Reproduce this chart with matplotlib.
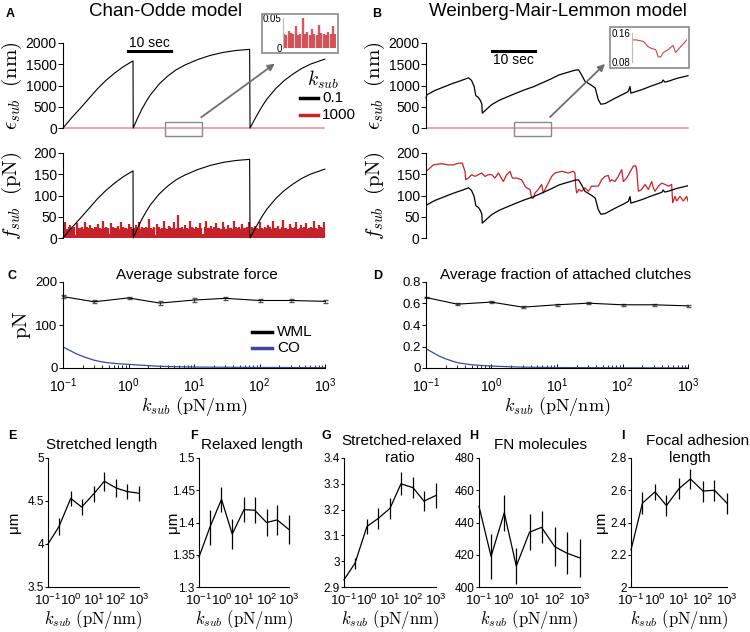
import numpy as np
import matplotlib

matplotlib.use("Agg")
import matplotlib.pyplot as plt
from matplotlib.patches import Rectangle, FancyArrowPatch
from matplotlib.lines import Line2D
from matplotlib.ticker import LogLocator, NullFormatter, FormatStrFormatter

plt.rcParams.update({
    "font.family": ["Liberation Sans", "DejaVu Sans"],
    "mathtext.fontset": "custom",
    "mathtext.rm": "Liberation Sans",
    "mathtext.it": "Liberation Sans:italic",
    "mathtext.bf": "Liberation Sans:bold",
    "axes.linewidth": 0.8,
    "xtick.major.width": 0.7,
    "ytick.major.width": 0.7,
})

RED = "#c62229"
BLUE = "#3c46a8"
GREY = "#8a8a8a"
W, H = 750, 632

# ---------------------------------------------------------------------------
# data
# ---------------------------------------------------------------------------
T_END = 61.0
K_SOFT = 0.1      # pN/nm
K_STIFF = 1000.0  # pN/nm

# Chan-Odde, k_sub = 0.1: substrate strain (nm)
CO_T = [0, 2, 4, 6, 8, 10, 12, 14, 16.3,
        16.35, 17.35, 18.35, 19.35, 20.35, 22.35, 24.35, 26.35, 28.35, 31.35,
        34.35, 37.35, 40.35, 43.45,
        43.55, 44.55, 45.55, 46.55, 47.55, 49.55, 51.55, 53.55, 55.55, 57.55, 60.95]
CO_EPS = [0, 240, 460, 690, 920, 1120, 1290, 1440, 1580,
          0, 230, 440, 620, 780, 1030, 1220, 1370, 1480, 1610,
          1710, 1780, 1825, 1850,
          0, 190, 370, 540, 690, 930, 1120, 1270, 1400, 1500, 1620]

# Chan-Odde, k_sub = 1000: substrate force (pN), sampled evenly over the trace
CO_F_STIFF = [
    24, 38, 22, 25, 31, 23, 26, 8, 35, 24, 23, 27, 22, 38, 25, 24, 30, 23, 22, 26,
    25, 33, 23, 22, 40, 24, 27, 23, 9, 36, 25, 24, 23, 29, 22, 38, 26, 23, 24, 22,
    34, 25, 22, 24, 30, 23, 38, 22, 25, 24, 27, 23, 45, 24, 22, 26, 8, 33, 25, 22,
    24, 40, 23, 22, 28, 25, 23, 37, 22, 24, 55, 23, 26, 22, 31, 24, 22, 39, 25, 23,
    22, 27, 24, 36, 23, 10, 25, 40, 24, 23, 29, 22, 26, 35, 23, 24, 22, 38, 25, 22,
    30, 23, 24, 22, 41, 25, 23, 27, 22, 34, 24, 23, 26, 38, 9, 25, 24, 29, 23, 22,
    37, 24, 22, 26, 23, 31, 25, 22, 39, 24, 23, 28, 22, 25, 42, 23, 24, 22, 33, 25,
    23, 26, 38, 22, 24, 30, 23, 25, 36, 22, 24, 27, 23, 40, 24, 22, 31, 25, 23, 38,
]
CO_ZOOM_T = (23.7, 32.3)

# Weinberg-Mair-Lemmon, k_sub = 0.1: substrate strain (nm)
WML_T = [0, 0.2, 2, 4, 6, 8, 9.9, 10.6, 11.2, 11.6, 12.2, 12.7, 13.0, 13.1,
         15.3, 17, 19.2, 21, 23, 25, 27, 29, 31, 33, 34.7, 35.5, 36.2, 37.0,
         38.6, 39.4, 40.1, 40.7, 41.7, 44.0, 46, 47.1, 47.5, 47.7, 50.2, 52.5,
         54.9, 55.2, 55.6, 56.4, 58.5, 61]
WML_EPS = [706, 780, 880, 960, 1040, 1110, 1180, 1120, 980, 760, 720, 640, 560, 350,
           550, 650, 745, 820, 900, 970, 1060, 1150, 1250, 1310, 1360, 1370, 1255, 1100,
           1000, 940, 670, 560, 575, 700, 800, 860, 975, 820, 900, 990,
           1075, 1130, 1080, 1100, 1170, 1230]

# Weinberg-Mair-Lemmon, k_sub = 1000: substrate force (pN)
WML_T_STIFF = [0, 0.54, 1.71, 3.65, 5.2, 6.36, 7.53, 8.46, 8.93, 9.08, 9.24, 9.86, 10.63,
               11.41, 12.18, 12.96, 13.74, 14.51, 15.29, 16.07, 16.84, 18.01, 18.78, 19.56,
               20.1, 21.11, 22.27, 23.05, 23.44, 24.21, 24.6, 24.99, 25.38, 26.15, 26.93,
               27.32, 28.09, 28.48, 29.26, 30.03, 31.59, 33.14, 34.3, 34.69, 34.85, 35.08,
               35.62, 36.24, 37.02, 37.8, 38.57, 39.35, 40.12, 40.9, 41.68, 42.45, 42.84,
               43.23, 44.0, 44.78, 45.56, 45.94, 46.72, 48.27, 48.82, 49.05, 49.44, 50.21,
               50.99, 51.77, 52.54, 52.93, 53.32, 54.09, 54.87, 55.65, 56.42, 57.2, 57.43,
               57.98, 58.36, 59.14, 59.92, 60.69, 61.0]
WML_F_STIFF = [157, 161, 172, 175, 172, 172, 176, 176, 161, 157, 137, 141, 149,
               145, 149, 153, 145, 149, 149, 141, 153, 133, 149, 157,
               141, 141, 137, 122, 118, 114, 94, 94, 106, 114, 126,
               106, 122, 129, 145, 153, 157, 153, 157, 153, 122, 106,
               114, 110, 118, 110, 122, 122, 122, 137, 145, 147, 133,
               137, 133, 145, 161, 133, 141, 169, 170, 161, 110, 114,
               126, 114, 133, 118, 110, 122, 129, 126, 122, 126, 83,
               98, 87, 98, 87, 98, 87]
WML_ZOOM_T = (20.5, 29.1)

# C / D: averages vs substrate stiffness
K_GRID = [0.1, 0.3, 1, 3, 10, 30, 100, 300, 1000]
WML_FORCE = [166, 154, 163, 151, 158, 162, 157, 157, 155]
WML_FORCE_ERR = [4, 4, 3, 4, 4, 3, 4, 4, 3]
WML_FRAC = [0.656, 0.594, 0.613, 0.566, 0.588, 0.603, 0.588, 0.588, 0.578]
WML_FRAC_ERR = [0.008, 0.012, 0.008, 0.01, 0.01, 0.01, 0.01, 0.01, 0.008]

K_CO = [0.1, 0.13, 0.16, 0.2, 0.25, 0.3, 0.4, 0.5, 0.7, 1, 2, 3, 5, 10, 100, 1000]
CO_FORCE = [49, 40, 33, 27, 22, 18, 14, 12, 10, 8.5, 5.5, 4, 3, 2.2, 1.2, 1]
CO_FRAC = [0.18, 0.14, 0.11, 0.085, 0.065, 0.05, 0.038, 0.03, 0.024, 0.018,
           0.011, 0.008, 0.006, 0.004, 0.002, 0.001]

# E-I: model outputs vs substrate stiffness
E_STRETCH = [4.0, 4.2, 4.53, 4.43, 4.58, 4.73, 4.65, 4.61, 4.59]
E_STRETCH_ERR = [0.0, 0.10, 0.09, 0.09, 0.09, 0.11, 0.10, 0.09, 0.09]
F_RELAX = [1.3465, 1.392, 1.436, 1.382, 1.42, 1.419, 1.40, 1.404, 1.389]
F_RELAX_ERR = [0.0, 0.027, 0.019, 0.023, 0.019, 0.02, 0.021, 0.023, 0.022]
G_RATIO = [2.928, 2.992, 3.135, 3.165, 3.205, 3.30, 3.285, 3.233, 3.255]
G_RATIO_ERR = [0.0, 0.022, 0.03, 0.04, 0.04, 0.045, 0.04, 0.04, 0.047]
H_FN = [450, 419, 446, 413, 434, 437, 425, 421, 418]
H_FN_ERR = [0, 14, 11, 11, 11, 10, 12, 13, 12]
I_FA = [2.23, 2.52, 2.59, 2.505, 2.61, 2.67, 2.595, 2.60, 2.52]
I_FA_ERR = [0.0, 0.07, 0.05, 0.065, 0.065, 0.06, 0.065, 0.065, 0.065]


# ---------------------------------------------------------------------------
# helpers (pixel positions -> figure fractions)
# ---------------------------------------------------------------------------
def fx(px):
    return px / W


def fy(py):
    return 1 - py / H


def add_ax(fig, l, t, r, b):
    return fig.add_axes([fx(l), fy(b), (r - l) / W, (b - t) / H])


def ftext(fig, x, y, s, **kw):
    kw.setdefault("ha", "center")
    kw.setdefault("va", "center")
    return fig.text(fx(x), fy(y), s, **kw)


def letter(fig, x, y, s):
    ftext(fig, x, y, s, fontsize=9, fontweight="bold", ha="left")


def only_left(ax):
    for s in ("top", "right", "bottom"):
        ax.spines[s].set_visible(False)
    ax.tick_params(axis="x", bottom=False, labelbottom=False)
    ax.tick_params(axis="y", length=3.5, labelsize=10, pad=1)


def ksub_axis(ax, xsize=10, ysize=9.5, xpad=5):
    ax.set_xscale("log")
    ax.set_xlim(0.1, 1000)
    ax.xaxis.set_major_locator(LogLocator(base=10, numticks=10))
    ax.xaxis.set_minor_locator(LogLocator(base=10, subs=np.arange(2, 10), numticks=20))
    ax.xaxis.set_minor_formatter(NullFormatter())
    for s in ("top", "right"):
        ax.spines[s].set_visible(False)
    ax.tick_params(axis="x", which="both", direction="in", labelsize=xsize, pad=xpad)
    ax.tick_params(axis="x", which="major", length=3)
    ax.tick_params(axis="x", which="minor", length=2)
    ax.tick_params(axis="y", length=3, labelsize=ysize, pad=1)


KLABEL = r"$k_{sub}\ (\mathrm{pN/nm})$"
EPS_LABEL = r"$\epsilon_{sub}\ \ (\mathrm{nm})$"
F_LABEL = r"$f_{sub}\ \ (\mathrm{pN})$"

# ---------------------------------------------------------------------------
# figure
# ---------------------------------------------------------------------------
fig = plt.figure(figsize=(W / 100, H / 100), dpi=100)

t_stiff = np.linspace(0.2, 60.8, len(CO_F_STIFF))
co_f_stiff = np.array(CO_F_STIFF, dtype=float)
co_eps_stiff = co_f_stiff / K_STIFF
co_f_soft = np.array(CO_EPS) * K_SOFT
wml_f_soft = np.array(WML_EPS) * K_SOFT
wml_eps_stiff = np.array(WML_F_STIFF) / K_STIFF

# ---- panel A ----
letter(fig, 6, 14, "A")
ftext(fig, 166, 12, "Chan-Odde model", fontsize=13.5)

axA1 = add_ax(fig, 63, 43, 325, 128)
axA1.plot(CO_T, CO_EPS, color="k", lw=0.8, clip_on=False, zorder=3)
axA1.plot(t_stiff, co_eps_stiff, color=RED, lw=0.8, alpha=0.7, clip_on=False)
axA1.set_xlim(0, T_END)
axA1.set_ylim(0, 2000)
axA1.set_yticks([0, 500, 1000, 1500, 2000])
only_left(axA1)
axA1.set_ylabel(EPS_LABEL, fontsize=15, math_fontfamily="cm")
axA1.yaxis.set_label_coords(-0.15, 0.5)
# scale bar
axA1.plot([15.1, 25.1], [1815, 1815], color="k", lw=2.2, clip_on=False)
axA1.text(20.1, 1990, "10 sec", ha="center", va="center", fontsize=10)
axA1.add_patch(Rectangle((CO_ZOOM_T[0], -190), CO_ZOOM_T[1] - CO_ZOOM_T[0], 330,
                         fill=False, ec=GREY, lw=1.0, clip_on=False, zorder=4))

axA2 = add_ax(fig, 63, 153, 325, 238)
axA2.vlines(t_stiff, 0, co_f_stiff, color=RED, lw=1.6)
axA2.plot(CO_T, co_f_soft, color="k", lw=0.8, clip_on=False, zorder=3)
axA2.set_xlim(0, T_END)
axA2.set_ylim(0, 200)
axA2.set_yticks([0, 50, 100, 150, 200])
only_left(axA2)
axA2.set_ylabel(F_LABEL, fontsize=15, math_fontfamily="cm")
axA2.yaxis.set_label_coords(-0.15, 0.5)

# inset A
fig.add_artist(Rectangle((fx(262), fy(53)), 76 / W, 39 / H, transform=fig.transFigure,
                         fill=False, ec=GREY, lw=1.2))
axAi = add_ax(fig, 283, 18, 336, 48)
m = (t_stiff >= CO_ZOOM_T[0]) & (t_stiff <= CO_ZOOM_T[1])
axAi.vlines(t_stiff[m], 0, co_eps_stiff[m], color=RED, lw=1.7, alpha=0.75)
axAi.set_xlim(CO_ZOOM_T)
axAi.set_ylim(0, 0.05)
axAi.set_yticks([0, 0.05])
axAi.set_yticklabels(["0", "0.05"])
for s in ("top", "right", "bottom"):
    axAi.spines[s].set_visible(False)
axAi.spines["left"].set_color("#bbbbbb")
axAi.tick_params(axis="x", bottom=False, labelbottom=False)
axAi.tick_params(axis="y", length=0, labelsize=7, pad=1)
fig.add_artist(FancyArrowPatch((fx(199), fy(119)), (fx(277), fy(62)),
                               transform=fig.transFigure, arrowstyle="-|>",
                               mutation_scale=10, lw=1.3, color="#6e6e6e"))

# legend A
ftext(fig, 323, 80, r"$k_{sub}$", fontsize=14, math_fontfamily="cm")
for yy, col, lab in ((98, "k", "0.1"), (115, RED, "1000")):
    fig.add_artist(Line2D([fx(300), fx(318)], [fy(yy), fy(yy)], color=col, lw=2.5,
                          transform=fig.transFigure))
    ftext(fig, 322, yy, lab, fontsize=11, ha="left")

# ---- panel B ----
letter(fig, 372, 14, "B")
ftext(fig, 558, 12, "Weinberg-Mair-Lemmon model", fontsize=13.5)

axB1 = add_ax(fig, 426, 43, 688, 128)
axB1.plot(WML_T, WML_EPS, color="k", lw=0.9, clip_on=False, zorder=3)
axB1.plot(WML_T_STIFF, wml_eps_stiff, color=RED, lw=0.8, alpha=0.7, clip_on=False)
axB1.set_xlim(0, T_END)
axB1.set_ylim(0, 2000)
axB1.set_yticks([0, 500, 1000, 1500, 2000])
only_left(axB1)
axB1.set_ylabel(EPS_LABEL, fontsize=15, math_fontfamily="cm")
axB1.yaxis.set_label_coords(-0.15, 0.5)
axB1.plot([15.4, 25.4], [1815, 1815], color="k", lw=2.2, clip_on=False)
axB1.text(20.4, 1600, "10 sec", ha="center", va="center", fontsize=10)
axB1.add_patch(Rectangle((WML_ZOOM_T[0], -190), WML_ZOOM_T[1] - WML_ZOOM_T[0], 330,
                         fill=False, ec=GREY, lw=1.0, clip_on=False, zorder=4))

axB2 = add_ax(fig, 426, 153, 688, 238)
axB2.plot(WML_T_STIFF, WML_F_STIFF, color=RED, lw=0.9)
axB2.plot(WML_T, wml_f_soft, color="k", lw=0.9)
axB2.set_xlim(0, T_END)
axB2.set_ylim(0, 200)
axB2.set_yticks([0, 50, 100, 150, 200])
only_left(axB2)
axB2.set_ylabel(F_LABEL, fontsize=15, math_fontfamily="cm")
axB2.yaxis.set_label_coords(-0.15, 0.5)

# inset B
fig.add_artist(Rectangle((fx(610), fy(68)), 79 / W, 41 / H, transform=fig.transFigure,
                         fill=False, ec=GREY, lw=1.2))
axBi = add_ax(fig, 632, 33, 687, 62)
axBi.plot(WML_T_STIFF, wml_eps_stiff, color=RED, lw=0.8, alpha=0.85)
axBi.set_xlim(WML_ZOOM_T)
axBi.set_ylim(0.08, 0.16)
axBi.set_yticks([0.08, 0.16])
axBi.set_yticklabels(["0.08", "0.16"])
for s in ("top", "right", "bottom"):
    axBi.spines[s].set_visible(False)
axBi.spines["left"].set_color("#bbbbbb")
axBi.tick_params(axis="x", bottom=False, labelbottom=False)
axBi.tick_params(axis="y", length=0, labelsize=7, pad=1)
fig.add_artist(FancyArrowPatch((fx(548), fy(119)), (fx(607), fy(62)),
                               transform=fig.transFigure, arrowstyle="-|>",
                               mutation_scale=10, lw=1.3, color="#6e6e6e"))

# ---- panel C ----
letter(fig, 8, 276, "C")
ftext(fig, 197, 275, "Average substrate force", fontsize=11)
axC = add_ax(fig, 63, 282, 325, 368)
axC.errorbar(K_GRID, WML_FORCE, yerr=WML_FORCE_ERR, color="k", lw=0.8,
             ecolor="#555555", elinewidth=0.8, capsize=1.8, clip_on=False)
axC.plot(K_CO, CO_FORCE, color=BLUE, lw=0.9)
ksub_axis(axC, xsize=10, ysize=9.5, xpad=6)
axC.set_ylim(0, 200)
axC.set_yticks([0, 100, 200])
axC.set_ylabel(r"$\mathrm{pN}$", fontsize=15, math_fontfamily="cm")
axC.yaxis.set_label_coords(-0.115, 0.5)
axC.set_xlabel(KLABEL, fontsize=13, math_fontfamily="cm", labelpad=0)
for yy, col, lab in ((332, "k", "WML"), (348, BLUE, "CO")):
    fig.add_artist(Line2D([fx(252), fx(272)], [fy(yy), fy(yy)], color=col, lw=2.5,
                          transform=fig.transFigure))
    ftext(fig, 277, yy, lab, fontsize=11, ha="left")

# ---- panel D ----
letter(fig, 373, 276, "D")
ftext(fig, 566, 275, "Average fraction of attached clutches", fontsize=11)
axD = add_ax(fig, 426, 282, 688, 368)
axD.errorbar(K_GRID, WML_FRAC, yerr=WML_FRAC_ERR, color="k", lw=0.8,
             ecolor="#555555", elinewidth=0.8, capsize=1.8, clip_on=False)
axD.plot(K_CO, CO_FRAC, color=BLUE, lw=0.9)
ksub_axis(axD, xsize=10, ysize=9.5, xpad=6)
axD.set_ylim(0, 0.8)
axD.set_yticks([0, 0.2, 0.4, 0.6, 0.8])
axD.yaxis.set_major_formatter(FormatStrFormatter("%g"))
axD.set_xlabel(KLABEL, fontsize=13, math_fontfamily="cm", labelpad=0)

# ---- panels E-I ----
small = [
    ("E", 8, (48, 139), [(102, 445, "Stretched length")], E_STRETCH, E_STRETCH_ERR,
     (3.5, 5), [3.5, 4, 4.5, 5], "μm", -0.30),
    ("F", 190, (199, 289), [(252, 445, "Relaxed length")], F_RELAX, F_RELAX_ERR,
     (1.3, 1.5), [1.3, 1.35, 1.4, 1.45, 1.5], "μm", -0.215),
    ("G", 321, (344, 436), [(402, 441, "Stretched-relaxed"), (400, 458, "ratio")],
     G_RATIO, G_RATIO_ERR, (2.9, 3.4), [2.9, 3, 3.1, 3.2, 3.3, 3.4], None, 0),
    ("H", 469, (479, 580), [(541, 445, "FN molecules")], H_FN, H_FN_ERR,
     (400, 480), [400, 420, 440, 460, 480], None, 0),
    ("I", 621, (631, 727), [(698, 441, "Focal adhesion"), (690, 458, "length")],
     I_FA, I_FA_ERR, (2, 2.8), [2, 2.2, 2.4, 2.6, 2.8], "μm", -0.24),
]
for let, lx, (l, r), titles, vals, errs, ylim, yticks, ylab, ylx in small:
    letter(fig, lx, 436, let)
    for tx, ty, s in titles:
        ftext(fig, tx, ty, s, fontsize=11)
    ax = add_ax(fig, l, 458, r, 587)
    ax.errorbar(K_GRID, vals, yerr=errs, color="k", lw=0.9, elinewidth=0.9,
                capsize=0, clip_on=False)
    ksub_axis(ax, xsize=9.5, ysize=8.5, xpad=4.5)
    ax.tick_params(axis="x", which="both", length=0)
    ax.tick_params(axis="y", length=2)
    ax.set_ylim(*ylim)
    ax.set_yticks(yticks)
    ax.yaxis.set_major_formatter(FormatStrFormatter("%g"))
    ax.set_xlabel(KLABEL, fontsize=12, math_fontfamily="cm", labelpad=0)
    if ylab:
        ax.set_ylabel(ylab, fontsize=11)
        ax.yaxis.set_label_coords(ylx, 0.5)

fig.savefig("out.png", dpi=100)
